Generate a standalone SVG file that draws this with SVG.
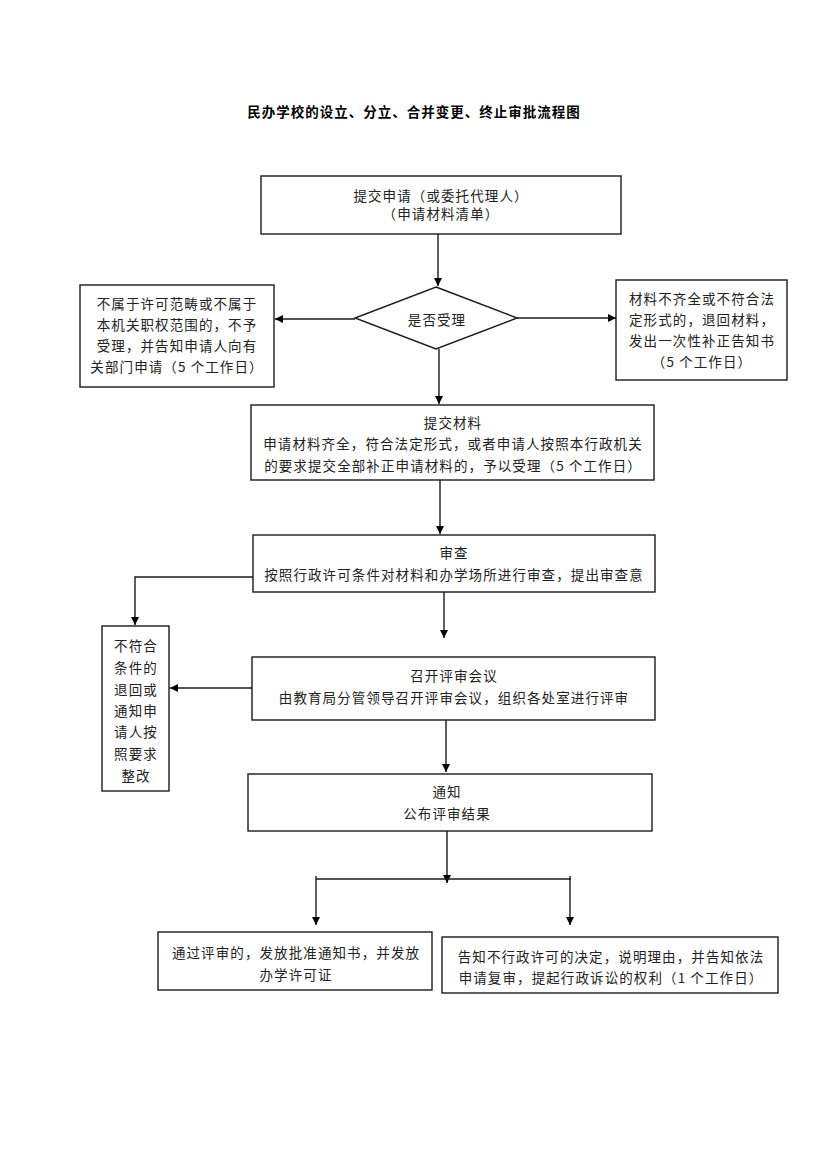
<svg xmlns="http://www.w3.org/2000/svg" width="826" height="1169" viewBox="0 0 826 1169">
<style>
.box{fill:#fff;stroke:#1a1a1a;stroke-width:1.4}
.t{font-family:"Noto Sans CJK SC","Liberation Sans",sans-serif;font-size:13.5px;fill:#222;text-anchor:middle;dominant-baseline:central;letter-spacing:1.1px}
.title{font-family:"Noto Sans CJK SC","Liberation Sans",sans-serif;font-size:13.5px;font-weight:bold;fill:#000;text-anchor:middle;dominant-baseline:central;letter-spacing:1px}
.c{fill:none;stroke:#1a1a1a;stroke-width:1.4}
</style>
<defs>
<marker id="ah" viewBox="0 0 10 10" refX="10" refY="5" markerWidth="8" markerHeight="9" markerUnits="userSpaceOnUse" orient="auto">
<path d="M0,0 L10,5 L0,10 z" fill="#000"/>
</marker>
</defs>
<rect width="826" height="1169" fill="#fff"/>
<text class="title" x="414" y="111">民办学校的设立、分立、合并变更、终止审批流程图</text>

<g id="connectors">
<line class="c" x1="438" y1="234" x2="438" y2="286" marker-end="url(#ah)"/>
<line class="c" x1="355" y1="319" x2="275" y2="319" marker-end="url(#ah)"/>
<line class="c" x1="517" y1="318" x2="616" y2="318" marker-end="url(#ah)"/>
<line class="c" x1="439" y1="349" x2="439" y2="404" marker-end="url(#ah)"/>
<line class="c" x1="440" y1="480" x2="440" y2="534" marker-end="url(#ah)"/>
<polyline class="c" points="253,577 135,577 135,625" marker-end="url(#ah)"/>
<line class="c" x1="444" y1="592" x2="444" y2="638" marker-end="url(#ah)"/>
<line class="c" x1="252" y1="688" x2="170" y2="688" marker-end="url(#ah)"/>
<line class="c" x1="446" y1="720" x2="446" y2="772" marker-end="url(#ah)"/>
<line class="c" x1="447" y1="831" x2="447" y2="883" marker-end="url(#ah)"/>
<line class="c" x1="316" y1="879" x2="571" y2="879"/>
<polyline class="c" points="316,876 316,925" marker-end="url(#ah)"/>
<polyline class="c" points="570,876 570,925" marker-end="url(#ah)"/>
</g>

<g id="n1">
<rect class="box" x="261" y="176" width="360" height="58"/>
<text class="t" x="441" y="195">提交申请（或委托代理人）</text>
<text class="t" x="441" y="213">（申请材料清单）</text>
</g>

<g id="n2">
<polygon class="box" points="436,287 517,318 436,349 355,318"/>
<text class="t" x="437" y="319">是否受理</text>
</g>

<g id="n3">
<rect class="box" x="80" y="285" width="194" height="102"/>
<text class="t" x="177" y="303">不属于许可范畴或不属于</text>
<text class="t" x="177" y="324">本机关职权范围的，不予</text>
<text class="t" x="177" y="345">受理，并告知申请人向有</text>
<text class="t" x="177" y="366">关部门申请（5 个工作日）</text>
</g>

<g id="n4">
<rect class="box" x="616" y="280" width="171" height="100"/>
<text class="t" x="702" y="298">材料不齐全或不符合法</text>
<text class="t" x="702" y="319">定形式的，退回材料，</text>
<text class="t" x="702" y="340">发出一次性补正告知书</text>
<text class="t" x="702" y="361">（5 个工作日）</text>
</g>

<g id="n5">
<rect class="box" x="251" y="405" width="403" height="75"/>
<text class="t" x="453" y="422">提交材料</text>
<text class="t" x="453" y="443">申请材料齐全，符合法定形式，或者申请人按照本行政机关</text>
<text class="t" x="453" y="465">的要求提交全部补正申请材料的，予以受理（5 个工作日）</text>
</g>

<g id="n6">
<rect class="box" x="253" y="535" width="402" height="57"/>
<text class="t" x="454" y="552">审查</text>
<text class="t" x="454" y="574">按照行政许可条件对材料和办学场所进行审查，提出审查意</text>
</g>

<g id="n7">
<rect class="box" x="102" y="626" width="67" height="165"/>
<text class="t" x="136" y="645">不符合</text>
<text class="t" x="136" y="667">条件的</text>
<text class="t" x="136" y="689">退回或</text>
<text class="t" x="136" y="710">通知申</text>
<text class="t" x="136" y="731">请人按</text>
<text class="t" x="136" y="753">照要求</text>
<text class="t" x="136" y="775">整改</text>
</g>

<g id="n8">
<rect class="box" x="252" y="657" width="403" height="63"/>
<text class="t" x="454" y="675">召开评审会议</text>
<text class="t" x="454" y="697">由教育局分管领导召开评审会议，组织各处室进行评审</text>
</g>

<g id="n9">
<rect class="box" x="248" y="774" width="404" height="57"/>
<text class="t" x="447" y="791">通知</text>
<text class="t" x="447" y="813">公布评审结果</text>
</g>

<g id="n10">
<rect class="box" x="158" y="932" width="274" height="58"/>
<text class="t" x="296" y="952">通过评审的，发放批准通知书，并发放</text>
<text class="t" x="296" y="974">办学许可证</text>
</g>

<g id="n11">
<rect class="box" x="442" y="937" width="336" height="56"/>
<text class="t" x="611" y="956">告知不行政许可的决定，说明理由，并告知依法</text>
<text class="t" x="611" y="977">申请复审，提起行政诉讼的权利（1 个工作日）</text>
</g>
</svg>
